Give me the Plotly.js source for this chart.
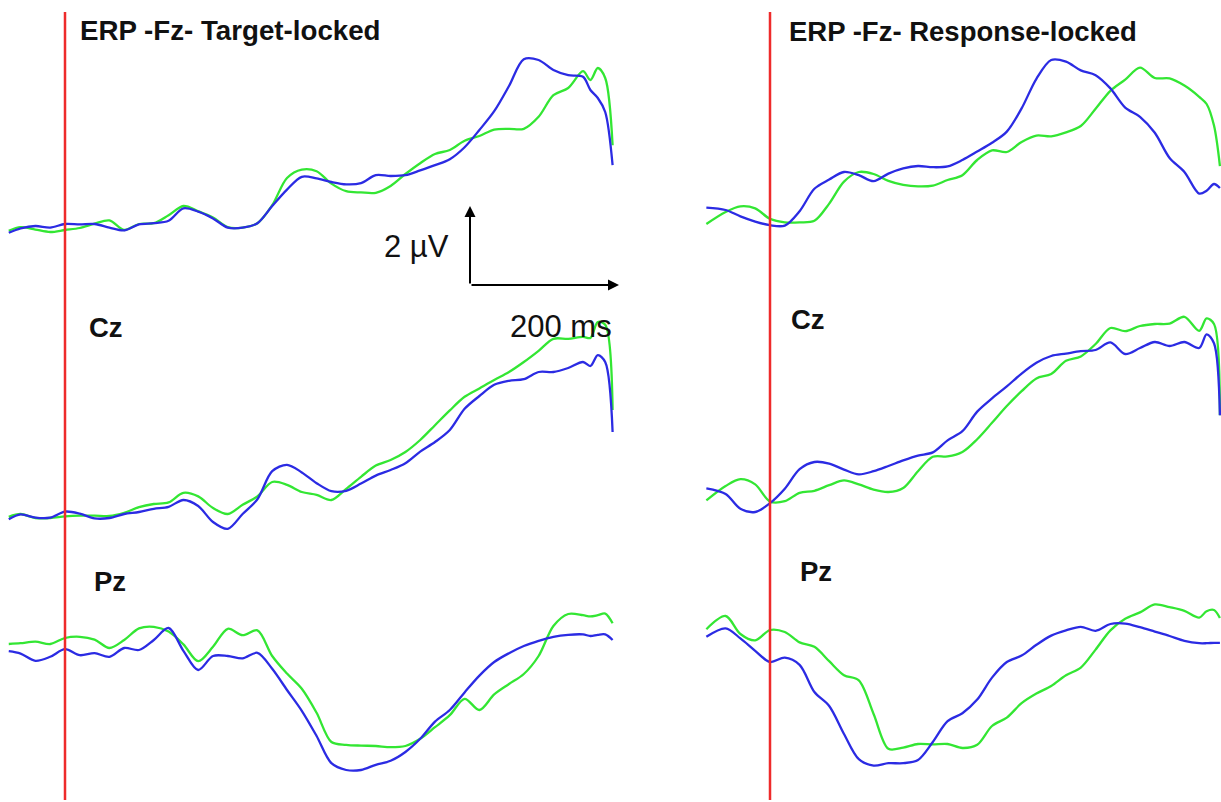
<!DOCTYPE html>
<html>
<head>
<meta charset="utf-8">
<script src="https://cdn.plot.ly/plotly-3.0.1.min.js"></script>
<style>html,body{margin:0;padding:0;background:#fff;}#chart{width:1221px;height:802px;}</style>
</head>
<body>
<div id="chart"></div>
<script>
// time axes (ms)
const tTarget = [-76,-60,-40,-20,0,20,40,60,80,100,120,140,160,180,200,220,240,260,280,300,320,340,360,380,400,420,440,460,480,500,520,540,560,580,600,620,640,660,680,700,710,720,730,740];
const tResponse = [-86,-60,-40,-20,0,20,40,60,80,100,120,140,160,180,200,220,240,260,280,300,320,340,360,380,400,420,440,460,480,500,520,540,560,580,590,600,608];

// amplitudes (µV) — target-locked
const fzTargetBlue = [-0.12,-0.01,0.05,0.01,0.10,0.09,0.10,0.01,-0.06,0.09,0.12,0.18,0.49,0.41,0.24,0.01,0.01,0.12,0.55,0.96,1.28,1.24,1.15,1.09,1.12,1.32,1.30,1.32,1.44,1.57,1.72,2.02,2.45,2.92,3.55,4.22,4.20,3.95,3.82,3.78,3.45,3.25,2.90,1.57];
const fzTargetGreen = [-0.07,0.02,-0.04,-0.10,-0.05,0.00,0.11,0.19,-0.05,0.10,0.12,0.32,0.55,0.42,0.26,0.02,0.01,0.12,0.57,1.25,1.46,1.42,1.11,0.92,0.89,0.88,1.05,1.35,1.62,1.85,1.95,2.18,2.30,2.46,2.48,2.48,2.78,3.32,3.50,3.92,3.70,4.00,3.75,2.07];
const czTargetBlue = [-0.08,0.04,-0.04,-0.04,0.11,0.06,-0.06,-0.05,0.05,0.10,0.18,0.23,0.40,0.25,-0.15,-0.32,0.05,0.42,1.12,1.28,1.09,0.82,0.62,0.63,0.81,1.01,1.15,1.32,1.61,1.85,2.15,2.68,3.00,3.28,3.38,3.42,3.60,3.60,3.70,3.85,3.75,4.02,3.85,2.10];
const czTargetGreen = [-0.02,0.05,-0.05,-0.05,-0.01,0.01,0.01,0.00,0.08,0.22,0.30,0.34,0.58,0.49,0.20,0.05,0.28,0.49,0.85,0.78,0.60,0.53,0.40,0.68,0.98,1.26,1.40,1.60,1.90,2.27,2.64,2.98,3.19,3.40,3.60,3.85,4.13,4.43,4.43,4.48,4.45,4.85,4.78,2.65];
const pzTargetBlue = [-0.08,-0.14,-0.32,-0.22,-0.03,-0.18,-0.13,-0.22,0.00,-0.05,0.20,0.50,-0.07,-0.55,-0.20,-0.20,-0.26,-0.12,-0.52,-1.05,-1.57,-2.20,-2.88,-3.05,-3.05,-2.92,-2.82,-2.60,-2.27,-1.84,-1.55,-1.11,-0.69,-0.35,-0.13,0.05,0.18,0.28,0.33,0.34,0.30,0.33,0.34,0.20];
const pzTargetGreen = [0.10,0.12,0.16,0.10,0.25,0.28,0.21,0.00,0.20,0.49,0.53,0.41,0.09,-0.33,0.03,0.48,0.32,0.44,-0.20,-0.64,-1.02,-1.62,-2.35,-2.42,-2.44,-2.45,-2.48,-2.45,-2.27,-1.98,-1.68,-1.27,-1.55,-1.16,-0.90,-0.65,-0.20,0.55,0.85,0.82,0.79,0.82,0.86,0.62];

// amplitudes (µV) — response-locked
const fzRespBlue = [0.31,0.25,0.09,-0.04,-0.13,-0.14,0.22,0.78,1.01,1.20,1.12,0.97,1.16,1.29,1.35,1.32,1.34,1.50,1.71,1.93,2.21,2.79,3.53,4.00,3.96,3.74,3.62,3.29,2.81,2.58,2.18,1.55,1.20,0.66,0.73,0.90,0.80];
const fzRespGreen = [-0.10,0.20,0.34,0.29,0.03,-0.06,-0.06,-0.02,0.41,0.96,1.20,1.15,0.98,0.88,0.84,0.86,1.00,1.12,1.50,1.74,1.70,1.95,2.11,2.09,2.19,2.35,2.78,3.23,3.51,3.81,3.55,3.54,3.36,3.08,2.90,2.36,1.35];
const czRespBlue = [0.29,0.15,-0.22,-0.30,-0.08,0.28,0.77,0.95,0.91,0.76,0.64,0.72,0.85,0.99,1.11,1.19,1.49,1.72,2.21,2.54,2.84,3.16,3.43,3.60,3.66,3.72,3.75,3.94,3.65,3.80,3.95,3.85,3.95,3.80,4.14,3.92,2.12];
const czRespGreen = [-0.01,0.35,0.52,0.39,-0.04,-0.03,0.18,0.23,0.37,0.49,0.39,0.26,0.20,0.30,0.72,1.08,1.09,1.20,1.52,1.93,2.35,2.72,3.04,3.15,3.48,3.59,3.90,4.30,4.22,4.35,4.40,4.41,4.58,4.23,4.54,4.40,2.12];
const pzRespBlue = [0.08,0.29,0.04,-0.27,-0.55,-0.44,-0.62,-1.30,-1.65,-2.35,-2.98,-3.14,-3.08,-3.08,-3.00,-2.55,-2.03,-1.83,-1.49,-0.94,-0.55,-0.39,-0.12,0.11,0.24,0.33,0.23,0.40,0.41,0.32,0.21,0.10,-0.02,-0.08,-0.08,-0.07,-0.07];
const pzRespGreen = [0.27,0.60,0.15,-0.01,0.25,0.20,-0.06,-0.17,-0.53,-0.88,-1.01,-1.85,-2.72,-2.69,-2.60,-2.61,-2.60,-2.70,-2.62,-2.15,-1.94,-1.58,-1.34,-1.15,-0.88,-0.69,-0.24,0.24,0.53,0.69,0.89,0.82,0.73,0.56,0.72,0.75,0.55];

// labels
const panelTitles = ['ERP -Fz- Target-locked', 'ERP -Fz- Response-locked'];
const electrodeLabels = ['Cz', 'Pz'];
const scaleLabels = ['2 µV', '200 ms'];

const BLUE = '#2b2be3';
const GREEN = '#33e633';
const FONT = 'Liberation Sans, Arial, sans-serif';

function tr(x, y, xa, ya, color) {
  return {x: x, y: y, xaxis: xa, yaxis: ya, type: 'scatter', mode: 'lines',
    line: {color: color, width: 2.3, shape: 'spline', smoothing: 0.9},
    hoverinfo: 'skip', showlegend: false};
}

const data = [
  tr(tTarget, fzTargetGreen, 'x', 'y', GREEN),
  tr(tTarget, fzTargetBlue, 'x', 'y', BLUE),
  tr(tTarget, czTargetGreen, 'x', 'y2', GREEN),
  tr(tTarget, czTargetBlue, 'x', 'y2', BLUE),
  tr(tTarget, pzTargetGreen, 'x', 'y3', GREEN),
  tr(tTarget, pzTargetBlue, 'x', 'y3', BLUE),
  tr(tResponse, fzRespGreen, 'x2', 'y4', GREEN),
  tr(tResponse, fzRespBlue, 'x2', 'y4', BLUE),
  tr(tResponse, czRespGreen, 'x2', 'y5', GREEN),
  tr(tResponse, czRespBlue, 'x2', 'y5', BLUE),
  tr(tResponse, pzRespGreen, 'x2', 'y6', GREEN),
  tr(tResponse, pzRespBlue, 'x2', 'y6', BLUE)
];

const W = 1221, H = 802;
const px = v => v / W;
const py = v => 1 - v / H;
const hid = {visible: false, fixedrange: true};

const layout = {
  width: W, height: H,
  margin: {l: 0, r: 0, t: 0, b: 0},
  paper_bgcolor: '#ffffff', plot_bgcolor: 'rgba(0,0,0,0)',
  showlegend: false,
  xaxis: Object.assign({domain: [0, 635 / W], range: [-87.84, 770.27], anchor: 'y3'}, hid),
  xaxis2: Object.assign({domain: [690 / W, 1], range: [-108.11, 609.46], anchor: 'y6'}, hid),
  yaxis: Object.assign({domain: [py(265), 1], range: [-0.925, 5.7], anchor: 'x'}, hid),
  yaxis2: Object.assign({domain: [py(560), py(265)], range: [-1.1, 6.275], anchor: 'x'}, hid),
  yaxis3: Object.assign({domain: [0, py(560)], range: [-3.85, 2.2], anchor: 'x'}, hid),
  yaxis4: Object.assign({domain: [py(265), 1], range: [-1.125, 5.5], anchor: 'x2'}, hid),
  yaxis5: Object.assign({domain: [py(560), py(265)], range: [-1.5, 5.875], anchor: 'x2'}, hid),
  yaxis6: Object.assign({domain: [0, py(560)], range: [-4.05, 2.0], anchor: 'x2'}, hid),
  shapes: [
    {type: 'line', xref: 'x', yref: 'paper', x0: 0, x1: 0, y0: py(800), y1: py(12), line: {color: '#ee2b2b', width: 2.5}},
    {type: 'line', xref: 'x2', yref: 'paper', x0: 0, x1: 0, y0: py(800), y1: py(12), line: {color: '#ee2b2b', width: 2.5}}
  ],
  annotations: [
    {xref: 'paper', yref: 'paper', x: px(78), y: py(30), xanchor: 'left', yanchor: 'middle', showarrow: false,
     text: '<b>' + panelTitles[0] + '</b>', font: {family: FONT, size: 27.7, color: '#111'}},
    {xref: 'paper', yref: 'paper', x: px(787), y: py(32), xanchor: 'left', yanchor: 'middle', showarrow: false,
     text: '<b>' + panelTitles[1] + '</b>', font: {family: FONT, size: 27.5, color: '#111'}},
    {xref: 'paper', yref: 'paper', x: px(106), y: py(327), xanchor: 'center', yanchor: 'middle', showarrow: false,
     text: '<b>' + electrodeLabels[0] + '</b>', font: {family: FONT, size: 27.5, color: '#111'}},
    {xref: 'paper', yref: 'paper', x: px(808), y: py(319), xanchor: 'center', yanchor: 'middle', showarrow: false,
     text: '<b>' + electrodeLabels[0] + '</b>', font: {family: FONT, size: 27.5, color: '#111'}},
    {xref: 'paper', yref: 'paper', x: px(110), y: py(581), xanchor: 'center', yanchor: 'middle', showarrow: false,
     text: '<b>' + electrodeLabels[1] + '</b>', font: {family: FONT, size: 27.5, color: '#111'}},
    {xref: 'paper', yref: 'paper', x: px(816), y: py(571), xanchor: 'center', yanchor: 'middle', showarrow: false,
     text: '<b>' + electrodeLabels[1] + '</b>', font: {family: FONT, size: 27.5, color: '#111'}},
    {xref: 'paper', yref: 'paper', x: px(416), y: py(246), xanchor: 'center', yanchor: 'middle', showarrow: false,
     text: scaleLabels[0], font: {family: FONT, size: 31, color: '#111'}},
    {xref: 'paper', yref: 'paper', x: px(561), y: py(326), xanchor: 'center', yanchor: 'middle', showarrow: false,
     text: scaleLabels[1], font: {family: FONT, size: 31, color: '#111'}},
    {xref: 'paper', yref: 'paper', x: px(470), y: py(206), ax: 0, ay: 79, text: '', showarrow: true,
     arrowhead: 2, arrowsize: 1.1, arrowwidth: 2, arrowcolor: '#000'},
    {xref: 'paper', yref: 'paper', x: px(619), y: py(285), ax: -149, ay: 0, text: '', showarrow: true,
     arrowhead: 2, arrowsize: 1.1, arrowwidth: 2, arrowcolor: '#000'}
  ]
};

Plotly.newPlot('chart', data, layout, {staticPlot: true, displayModeBar: false});
</script>
</body>
</html>
